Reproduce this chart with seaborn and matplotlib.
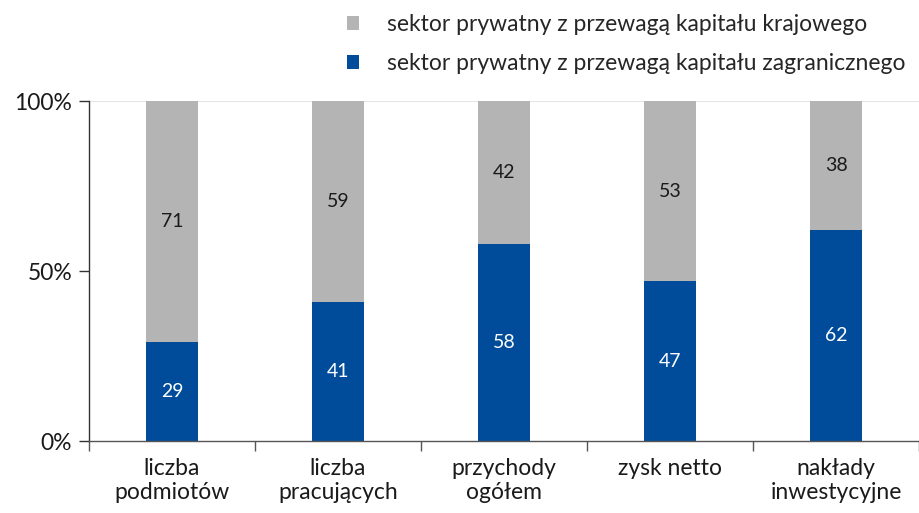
import matplotlib
matplotlib.use("Agg")
import matplotlib.pyplot as plt
import seaborn as sns
import pandas as pd
from matplotlib.patches import Patch
from matplotlib.ticker import FixedLocator

sns.set_theme(style="white")
plt.rcParams['font.family'] = ['Lato', 'DejaVu Sans']

categories = ["liczba\npodmiotów", "liczba\npracujących", "przychody\nogółem", "zysk netto", "nakłady\ninwestycyjne"]
zagraniczny = [29, 41, 58, 47, 62]
krajowy = [71, 59, 42, 53, 38]
series_names = ["sektor prywatny z przewagą kapitału krajowego",
                "sektor prywatny z przewagą kapitału zagranicznego"]

GRAY = "#B4B4B4"
BLUE = "#004C9A"

df = pd.DataFrame({"cat": categories, "zag": zagraniczny, "kraj": krajowy})
df["total"] = df["zag"] + df["kraj"]

fig = plt.figure(figsize=(9.19, 5.13), dpi=100)
ax = fig.add_axes([89/919, 1-441/513, 1-89/919, 340/513])

sns.barplot(data=df, x="cat", y="total", color=GRAY, width=0.31, ax=ax,
            saturation=1, linewidth=0)
sns.barplot(data=df, x="cat", y="zag", color=BLUE, width=0.31, ax=ax,
            saturation=1, linewidth=0)

for i, (z, k) in enumerate(zip(zagraniczny, krajowy)):
    ax.text(i, z/2, str(z), ha="center", va="center", color="white", fontsize=14)
    ax.text(i, z + k/2, str(k), ha="center", va="center", color="#1a1a1a", fontsize=14)

ax.set_xlim(-0.5, 4.5)
ax.set_ylim(0, 100)
ax.set_xlabel("")
ax.set_ylabel("")
ax.set_yticks([0, 50, 100])
ax.set_yticklabels(["0%", "50%", "100%"], fontsize=16.5, color="#1a1a1a")
ax.axhline(100, color="#e6e6e6", lw=0.8, zorder=0)

ax.set_xticks(range(len(categories)))
ax.set_xticklabels(categories, fontsize=16.5, color="#1a1a1a", linespacing=1.2)
ax.tick_params(axis="x", which="major", length=0, pad=12)
ax.xaxis.set_minor_locator(FixedLocator([-0.5, 0.5, 1.5, 2.5, 3.5, 4.5]))
ax.tick_params(axis="x", which="minor", length=7, width=1, color="#555555", direction="out", bottom=True)
ax.tick_params(axis="y", length=7, width=1, color="#333333", direction="out", left=True, pad=5)

for s in ["top", "right"]:
    ax.spines[s].set_visible(False)
ax.spines["left"].set_color("#333333")
ax.spines["bottom"].set_color("#555555")
ax.spines["left"].set_linewidth(1)
ax.spines["bottom"].set_linewidth(1)

handles = [Patch(facecolor=GRAY, edgecolor="none"), Patch(facecolor=BLUE, edgecolor="none")]
fig.legend(handles, series_names, loc="upper right", bbox_to_anchor=(1.0, 1.0),
           frameon=False, fontsize=16.5, handlelength=0.55, handleheight=0.55,
           handletextpad=1.2, labelspacing=0.8, borderaxespad=0.2)

fig.savefig("out.png", dpi=100)
